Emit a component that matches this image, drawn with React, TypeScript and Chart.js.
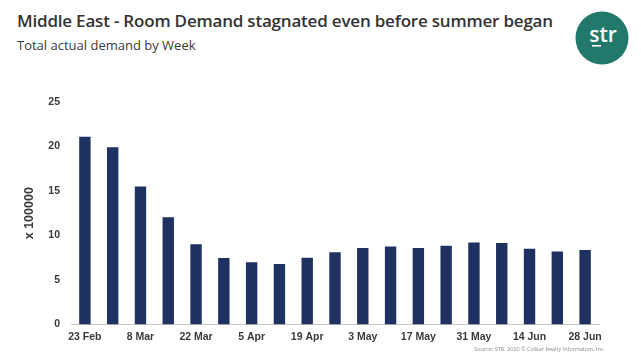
import React, { useEffect, useRef } from "react";
import { Chart, registerables } from "chart.js";

Chart.register(...registerables);

const weeks = [
  "23 Feb", "1 Mar", "8 Mar", "15 Mar", "22 Mar", "29 Mar", "5 Apr", "12 Apr",
  "19 Apr", "26 Apr", "3 May", "10 May", "17 May", "24 May", "31 May", "7 Jun",
  "14 Jun", "21 Jun", "28 Jun",
];
const demand = [
  21.1, 19.9, 15.5, 12.05, 9.0, 7.45, 7.0, 6.8, 7.5, 8.1, 8.6, 8.75, 8.6, 8.85,
  9.2, 9.15, 8.5, 8.2, 8.35,
];
const yTicks = [0, 5, 10, 15, 20, 25];

const title = "Middle East - Room Demand stagnated even before summer began";
const subtitle = "Total actual demand by Week";
const yTitle = "x 100000";
const source = "Source: STR. 2020 © CoStar Realty Information, Inc.";

export default function App() {
  const ref = useRef<HTMLCanvasElement>(null);

  useEffect(() => {
    document.body.style.margin = "0";
    const ctx = ref.current!;
    const tickFont = { family: "'Liberation Sans', Arial, sans-serif", size: 10.5, weight: "bold" as const };
    const chart = new Chart(ctx, {
      type: "bar",
      data: {
        labels: weeks,
        datasets: [
          {
            data: demand,
            backgroundColor: "#1e3161",
            borderColor: "#1e3161",
            borderWidth: 0,
            categoryPercentage: 1,
            barPercentage: 0.41,
          },
        ],
      },
      options: {
        animation: false,
        responsive: false,
        maintainAspectRatio: false,
        layout: { padding: { left: 22, right: 42, top: 22, bottom: 13 } },
        plugins: { legend: { display: false }, tooltip: { enabled: false } },
        scales: {
          x: {
            offset: true,
            grid: { display: false, drawTicks: false },
            border: { display: true, color: "#c8c8c8", width: 1 },
            ticks: {
              autoSkip: false,
              maxRotation: 0,
              padding: 6,
              color: "#3a3a3a",
              font: tickFont,
              callback: (_v: any, i: number) => (i % 2 === 0 ? weeks[i] : ""),
            },
          },
          y: {
            min: yTicks[0],
            max: yTicks[yTicks.length - 1],
            afterBuildTicks: (s: any) => {
              s.ticks = yTicks.map((v) => ({ value: v }));
            },
            afterFit: (s: any) => {
              s.width = 49;
            },
            grid: { display: false, drawTicks: false },
            border: { display: false },
            ticks: { padding: 11, color: "#3a3a3a", font: tickFont },
            title: {
              display: true,
              text: yTitle,
              color: "#3a3a3a",
              font: { family: "'Liberation Sans', Arial, sans-serif", size: 12.5, weight: "bold" },
              padding: { top: 0, bottom: 0 },
            },
          },
        },
      },
    });
    return () => chart.destroy();
  }, []);

  return (
    <div style={{ position: "relative", width: 641, height: 362, background: "#fff", overflow: "hidden" }}>
      <div
        style={{
          position: "absolute",
          left: 17,
          top: 9,
          fontFamily: "'Open Sans', sans-serif",
          fontWeight: 600,
          fontSize: 17,
          color: "#333",
          whiteSpace: "nowrap",
          letterSpacing: -0.2,
        }}
      >
        {title}
      </div>
      <div
        style={{
          position: "absolute",
          left: 17,
          top: 36,
          fontFamily: "'Open Sans', sans-serif",
          fontSize: 13,
          color: "#3a3a3a",
          whiteSpace: "nowrap",
        }}
      >
        {subtitle}
      </div>
      <svg style={{ position: "absolute", left: 575, top: 11 }} width={54} height={54} viewBox="0 0 54 54">
        <circle cx={27} cy={27} r={26.5} fill="#22786a" />
        <text
          x={28}
          y={31}
          textAnchor="middle"
          fill="#fff"
          fontFamily="'Open Sans', sans-serif"
          fontWeight={600}
          fontSize={21}
        >
          str
        </text>
        <rect x={17} y={34} width={9} height={1.6} fill="#fff" />
      </svg>
      <canvas
        ref={ref}
        width={641}
        height={282}
        style={{ position: "absolute", left: 0, top: 80, width: 641, height: 282 }}
      />
      <div
        style={{
          position: "absolute",
          right: 36,
          top: 345,
          fontFamily: "'Open Sans', sans-serif",
          fontSize: 5.5,
          color: "#8a8a8a",
          whiteSpace: "nowrap",
        }}
      >
        {source}
      </div>
    </div>
  );
}
